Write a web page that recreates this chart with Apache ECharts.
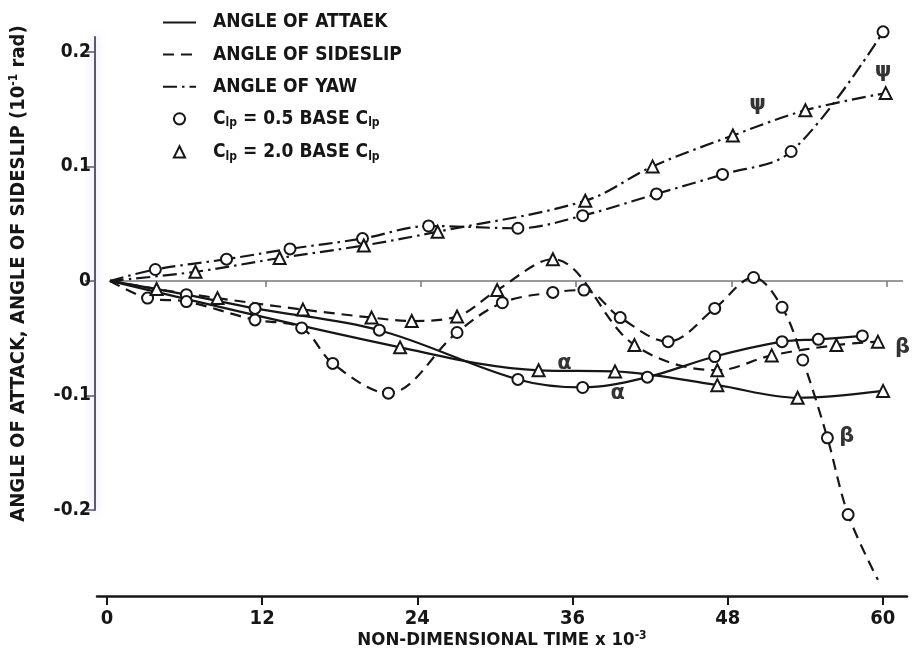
<!DOCTYPE html>
<html>
<head>
<meta charset="utf-8">
<script src="https://cdn.jsdelivr.net/npm/echarts@6/dist/echarts.min.js"></script>
<style>
  html, body { margin: 0; padding: 0; background: #fff; }
  #main { width: 919px; height: 657px; }
</style>
</head>
<body>
<div id="main"></div>
<script>
// ticks
var xTicks = [0, 12, 24, 36, 48, 60];
var zeroTicks = [12, 24, 36, 48, 60];
var yTicks = [-0.2, -0.1, 0, 0.1, 0.2];

// every curve leaves from the origin
var origin = [0, 0];

// angle of yaw, C_lp = 0.5 / 2.0 base
var yawHalf = [[3.5, 0.010], [9.0, 0.019], [13.9, 0.028], [19.5, 0.037], [24.6, 0.048],
  [31.5, 0.046], [36.5, 0.057], [42.2, 0.076], [47.3, 0.093], [52.6, 0.113], [59.7, 0.2175]];
var yawDouble = [[6.6, 0.008], [13.1, 0.020], [19.6, 0.031], [25.3, 0.043], [36.7, 0.070],
  [41.9, 0.100], [48.1, 0.127], [53.7, 0.149], [59.9, 0.164]];

// angle of attack
var attackHalf = [[5.9, -0.012], [11.2, -0.024], [20.8, -0.043], [31.5, -0.086], [36.5, -0.093],
  [41.5, -0.084], [46.7, -0.066], [51.9, -0.053], [54.7, -0.051], [58.1, -0.048]];
var attackDouble = [[22.4, -0.058], [33.1, -0.078], [39.0, -0.079], [46.9, -0.091],
  [53.1, -0.102], [59.7, -0.096]];

// angle of sideslip (last half-base point is only a line end, no marker)
var slipHalf = [[2.9, -0.015], [5.9, -0.018], [11.2, -0.034], [14.8, -0.041], [17.2, -0.072],
  [21.5, -0.098], [26.8, -0.045], [30.3, -0.019], [34.2, -0.010], [36.6, -0.008], [39.4, -0.032],
  [43.1, -0.053], [46.7, -0.024], [49.7, 0.003], [51.9, -0.023], [53.5, -0.069], [55.4, -0.137],
  [57.0, -0.204], [59.3, -0.261]];
var slipDouble = [[3.6, -0.007], [8.3, -0.015], [14.9, -0.025], [20.2, -0.032], [23.3, -0.035],
  [26.8, -0.031], [29.9, -0.008], [34.2, 0.019], [40.5, -0.056], [46.9, -0.078], [51.1, -0.065],
  [56.1, -0.056], [59.3, -0.053]];

// curve tags written on the plot
var curveTags = [['ψ', 50.0, 0.154], ['ψ', 59.7, 0.183], ['α', 35.1, -0.072], ['α', 39.2, -0.098],
  ['β', 61.2, -0.058], ['β', 56.9, -0.136]];

var legendNames = ['ANGLE OF ATTAEK', 'ANGLE OF SIDESLIP', 'ANGLE OF YAW',
  'C_lp = 0.5 BASE C_lp', 'C_lp = 2.0 BASE C_lp'];

var INK = '#161616';
var FONT = "'DejaVu Sans Condensed', 'DejaVu Sans', sans-serif";
var SOLID = 'solid';
var DASHED = [11, 7];
var DASHDOT = [14, 5, 2.5, 5];

function curve(pts, dash, symbol, size, noEndMark) {
  var data = [{ value: origin, symbol: 'none' }];
  for (var i = 0; i < pts.length; i++) {
    if (noEndMark && i == pts.length - 1) {
      data.push({ value: pts[i], symbol: 'none' });
    } else {
      data.push(pts[i]);
    }
  }
  return {
    type: 'line', xAxisIndex: 0, yAxisIndex: 0,
    data: data, smooth: 0.35, clip: false,
    symbol: symbol, symbolSize: size, showSymbol: true, showAllSymbol: true,
    lineStyle: { color: INK, width: 2.2, type: dash },
    itemStyle: { color: '#fff', borderColor: INK, borderWidth: 2 },
    emphasis: { disabled: true },
    z: 3
  };
}

// empty series, only there to feed the legend
function key(name, dash, symbol) {
  return {
    name: name, type: 'line', xAxisIndex: 0, yAxisIndex: 0, data: [],
    symbol: symbol, symbolSize: 11,
    lineStyle: { color: INK, width: 2.2, type: dash },
    itemStyle: { color: '#fff', borderColor: INK, borderWidth: 2 }
  };
}

var series = [
  curve(yawHalf, DASHDOT, 'circle', 11),
  curve(yawDouble, DASHDOT, 'triangle', 12),
  curve(attackHalf, SOLID, 'circle', 11),
  curve(attackDouble, SOLID, 'triangle', 12),
  curve(slipHalf, DASHED, 'circle', 11, true),
  curve(slipDouble, DASHED, 'triangle', 12),
  key(legendNames[0], SOLID, 'none'),
  key(legendNames[1], DASHED, 'none'),
  key(legendNames[2], DASHDOT, 'none'),
  key(legendNames[3], SOLID, 'circle'),
  key(legendNames[4], SOLID, 'triangle'),
  {
    type: 'scatter', xAxisIndex: 0, yAxisIndex: 0, clip: false, silent: true,
    symbolSize: 1, itemStyle: { color: 'rgba(0,0,0,0)' },
    data: curveTags.map(function (t) { return { value: [t[1], t[2]], name: t[0] }; }),
    label: {
      show: true, position: 'inside', formatter: function (p) { return p.name; },
      fontFamily: 'DejaVu Sans', fontWeight: 'bold', fontSize: 21, color: '#000'
    },
    z: 4
  }
];

var supStyle = { fontFamily: FONT, fontWeight: 'bold', fontSize: 12, color: INK, padding: [0, 0, 9, 0] };

var chart = echarts.init(document.getElementById('main'), null, { renderer: 'canvas' });
chart.setOption({
  animation: false,
  backgroundColor: '#fff',
  grid: [
    { left: 110, top: 37, width: 792.5, height: 473, outerBoundsMode: 'none' },
    { left: 97, top: 595, width: 810, height: 1, outerBoundsMode: 'none' }
  ],
  legend: {
    orient: 'vertical', left: 157, top: 8,
    itemWidth: 33, itemHeight: 14, itemGap: 13.1,
    selectedMode: false,
    data: [
      { name: legendNames[0], itemStyle: { opacity: 0 } },
      { name: legendNames[1], itemStyle: { opacity: 0 } },
      { name: legendNames[2], itemStyle: { opacity: 0 } },
      { name: legendNames[3], lineStyle: { opacity: 0 } },
      { name: legendNames[4], lineStyle: { opacity: 0 } }
    ],
    formatter: function (n) { return n.replace(/C_lp/g, 'C{s|lp}'); },
    textStyle: {
      fontFamily: FONT, fontWeight: 'bold', fontSize: 19, color: INK,
      padding: [0, 0, 0, 12],
      rich: { s: { fontFamily: FONT, fontWeight: 'bold', fontSize: 12, color: INK, padding: [9, 0, 0, 0] } }
    }
  },
  xAxis: [
    {
      gridIndex: 0, type: 'value', min: 0, max: 61.2,
      axisLine: { onZero: true, lineStyle: { color: '#77777f', width: 1.5 } },
      axisTick: { show: true, customValues: zeroTicks, length: 6, lineStyle: { color: '#77777f', width: 1.5 } },
      axisLabel: { show: false },
      splitLine: { show: false }
    },
    {
      gridIndex: 1, type: 'value', min: -0.77, max: 61.87,
      axisLine: { onZero: false, lineStyle: { color: INK, width: 2.5 } },
      axisTick: { show: true, customValues: xTicks, length: 9, lineStyle: { color: INK, width: 2 } },
      axisLabel: { customValues: xTicks, margin: 13, fontFamily: FONT, fontWeight: 'bold', fontSize: 20, color: INK },
      splitLine: { show: false },
      name: 'NON-DIMENSIONAL TIME x 10{sup|-3}', nameLocation: 'middle', nameGap: 31,
      nameTextStyle: { fontFamily: FONT, fontWeight: 'bold', fontSize: 18.5, color: INK, rich: { sup: supStyle } }
    }
  ],
  yAxis: [
    {
      gridIndex: 0, type: 'value', min: -0.2, max: 0.213, interval: 0.1, offset: 15,
      axisLine: { show: true, onZero: false, lineStyle: { color: '#5a5a6e', width: 2, shadowColor: 'rgba(150,140,215,0.55)', shadowBlur: 8 } },
      axisTick: { show: true, customValues: yTicks, length: 10, lineStyle: { color: '#5a5a6e', width: 1.5 } },
      axisLabel: {
        customValues: yTicks, margin: 4, fontFamily: FONT, fontWeight: 'bold', fontSize: 19, color: INK,
        formatter: function (v) { return v == 0 ? '0' : v.toFixed(1); }
      },
      splitLine: { show: false },
      name: 'ANGLE OF ATTACK, ANGLE OF SIDESLIP (10{sup|-1} rad)', nameLocation: 'middle', nameRotate: 90, nameGap: 66,
      nameTextStyle: { fontFamily: FONT, fontWeight: 'bold', fontSize: 20, color: INK, rich: { sup: supStyle } }
    },
    { gridIndex: 1, type: 'value', min: 0, max: 1, show: false }
  ],
  series: series
});
</script>
</body>
</html>
